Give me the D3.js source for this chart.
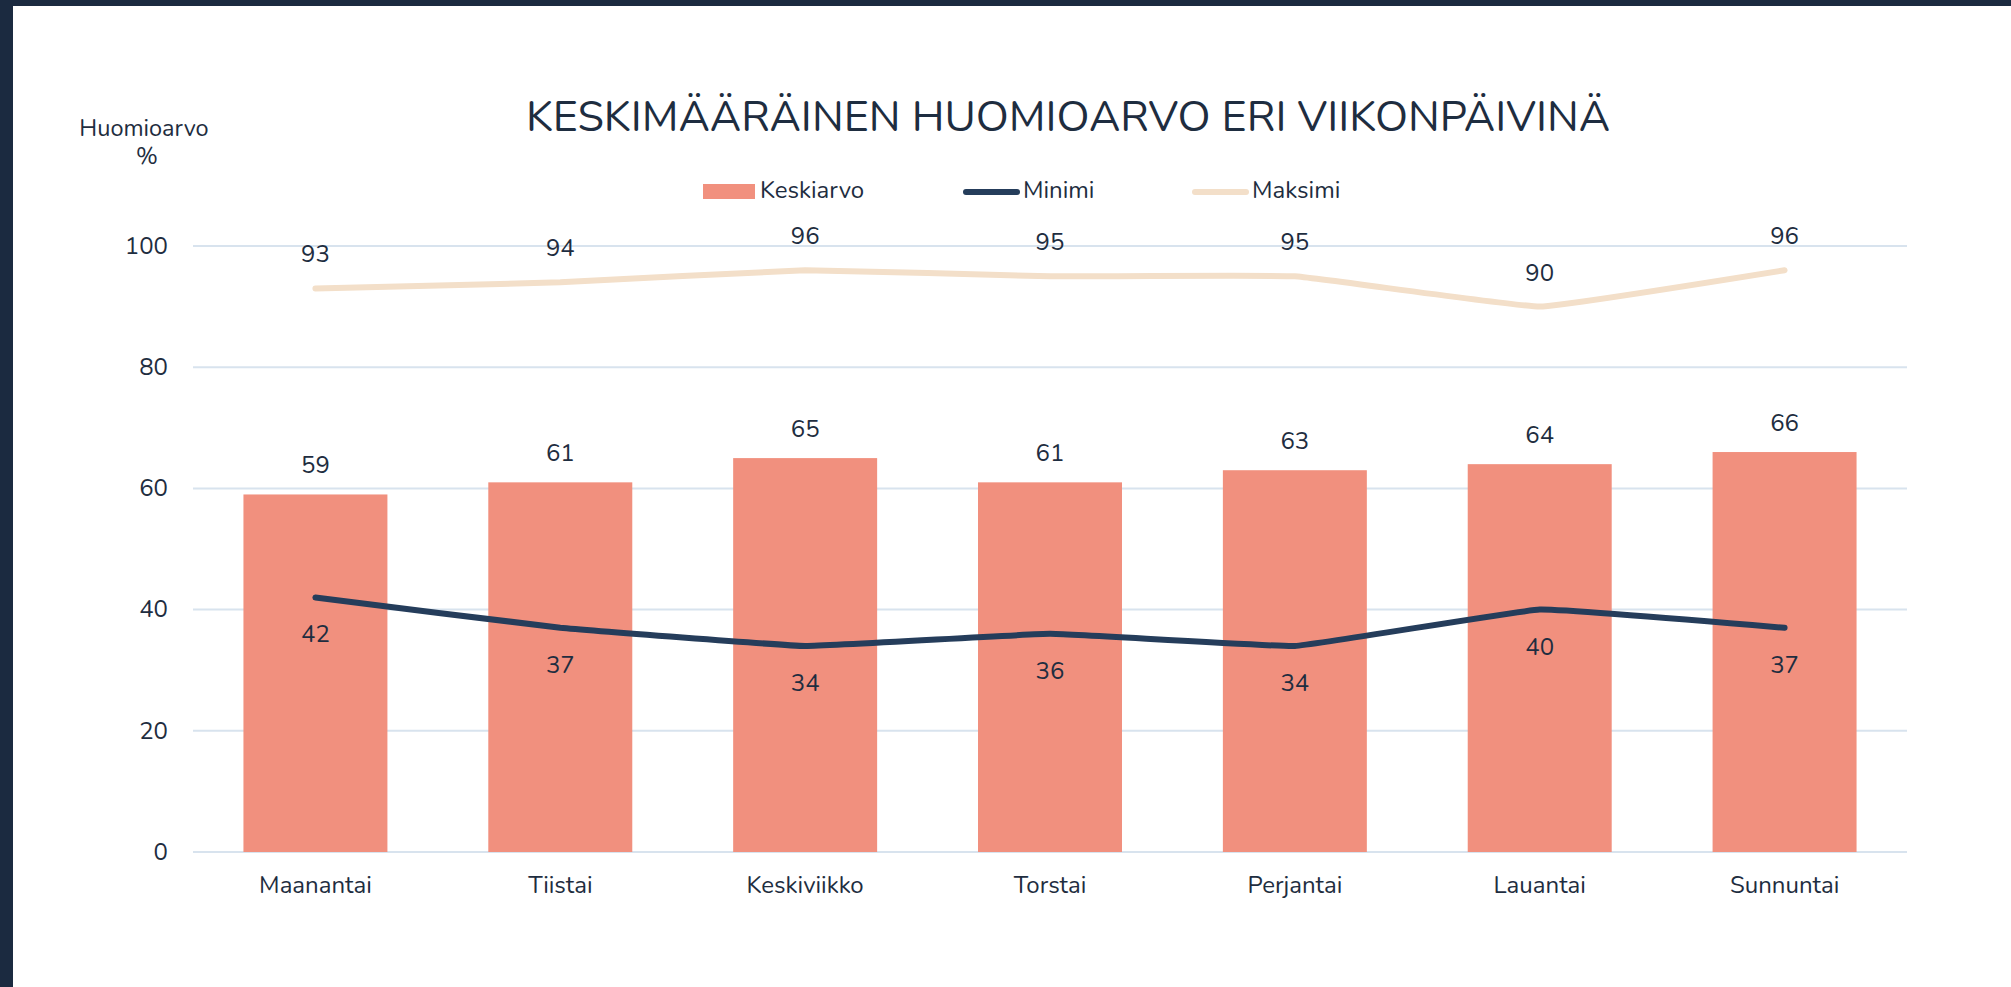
<!DOCTYPE html>
<html>
<head>
<meta charset="utf-8">
<script src="https://cdn.jsdelivr.net/npm/d3@7"></script>
<style>
  html, body { margin: 0; padding: 0; background: #fff; }
  svg text { font-family: "Nunito", "Lato", sans-serif; fill: #1e2d40; }
</style>
</head>
<body>
<div id="chart"></div>
<script>
// Data
const days = ["Maanantai", "Tiistai", "Keskiviikko", "Torstai", "Perjantai", "Lauantai", "Sunnuntai"];
const keskiarvo = [59, 61, 65, 61, 63, 64, 66];
const minimi = [42, 37, 34, 36, 34, 40, 37];
const maksimi = [93, 94, 96, 95, 95, 90, 96];
const yTicks = [0, 20, 40, 60, 80, 100];
const seriesNames = ["Keskiarvo", "Minimi", "Maksimi"];

const W = 2011, H = 987;
const colors = { bar: "#f1907e", min: "#253d5b", max: "#f3dfc9", grid: "#d8e3ee", frame: "#1b2a40" };

const svg = d3.select("#chart").append("svg")
    .attr("width", W)
    .attr("height", H);

// dark frame (top + left edge)
svg.append("rect").attr("width", W).attr("height", H).attr("fill", colors.frame);
svg.append("rect").attr("x", 13).attr("y", 6).attr("width", W - 13).attr("height", H - 6).attr("fill", "#fff");

// scales
const x = d3.scaleBand()
    .domain(days)
    .range([193, 1907])
    .paddingInner(0.412)
    .paddingOuter(0.206);

const y = d3.scaleLinear()
    .domain([0, 100])
    .range([852, 246]);

const cx = d => x(d) + x.bandwidth() / 2;

// gridlines
svg.append("g")
    .selectAll("line")
    .data(yTicks)
    .enter()
    .append("line")
    .attr("x1", 193)
    .attr("x2", 1907)
    .attr("y1", d => y(d))
    .attr("y2", d => y(d))
    .attr("stroke", colors.grid)
    .attr("stroke-width", 2);

// y axis labels
const yAxis = svg.append("g")
    .attr("transform", "translate(168,0)")
    .call(d3.axisLeft(y).tickValues(yTicks).tickSize(0).tickPadding(0));
yAxis.select(".domain").remove();
yAxis.attr("font-family", null);
yAxis.selectAll("text")
    .attr("font-size", "24px")
    .attr("dy", "0.3em")
    .attr("fill", "#1e2d40");

// x axis labels
const xAxis = svg.append("g")
    .attr("transform", "translate(0,852)")
    .call(d3.axisBottom(x).tickSize(0).tickPadding(0));
xAxis.select(".domain").remove();
xAxis.attr("font-family", null);
xAxis.selectAll("text")
    .attr("font-size", "24px")
    .attr("y", 41)
    .attr("dy", 0)
    .attr("fill", "#1e2d40");

// bars
svg.append("g")
    .selectAll("rect")
    .data(days)
    .enter()
    .append("rect")
    .attr("x", d => x(d))
    .attr("y", (d, i) => y(keskiarvo[i]))
    .attr("width", x.bandwidth())
    .attr("height", (d, i) => y(0) - y(keskiarvo[i]))
    .attr("fill", colors.bar);

// bar labels
svg.append("g")
    .selectAll("text")
    .data(days)
    .enter()
    .append("text")
    .attr("x", cx)
    .attr("y", (d, i) => y(keskiarvo[i]) - 21)
    .attr("text-anchor", "middle")
    .attr("font-size", "24px")
    .text((d, i) => keskiarvo[i]);

// lines (gently smoothed, like the original)
const line = vals => d3.line()
    .x(d => cx(d))
    .y((d, i) => y(vals[i]))
    .curve(d3.curveCardinal.tension(0.75))(days);

svg.append("path")
    .attr("d", line(maksimi))
    .attr("fill", "none")
    .attr("stroke", colors.max)
    .attr("stroke-width", 6)
    .attr("stroke-linecap", "round")
    .attr("stroke-linejoin", "round");

svg.append("path")
    .attr("d", line(minimi))
    .attr("fill", "none")
    .attr("stroke", colors.min)
    .attr("stroke-width", 6)
    .attr("stroke-linecap", "round")
    .attr("stroke-linejoin", "round");

// line labels
svg.append("g")
    .selectAll("text")
    .data(days)
    .enter()
    .append("text")
    .attr("x", cx)
    .attr("y", (d, i) => y(maksimi[i]) - 26)
    .attr("text-anchor", "middle")
    .attr("font-size", "24px")
    .text((d, i) => maksimi[i]);

svg.append("g")
    .selectAll("text")
    .data(days)
    .enter()
    .append("text")
    .attr("x", cx)
    .attr("y", (d, i) => y(minimi[i]) + 45)
    .attr("text-anchor", "middle")
    .attr("font-size", "24px")
    .text((d, i) => minimi[i]);

// title
svg.append("text")
    .attr("x", 1068)
    .attr("y", 131)
    .attr("text-anchor", "middle")
    .attr("font-size", "43px")
    .text("KESKIMÄÄRÄINEN HUOMIOARVO ERI VIIKONPÄIVINÄ");

// y axis title
svg.append("text")
    .attr("x", 144)
    .attr("y", 136)
    .attr("text-anchor", "middle")
    .attr("font-size", "23.5px")
    .text("Huomioarvo");
svg.append("text")
    .attr("x", 147)
    .attr("y", 164)
    .attr("text-anchor", "middle")
    .attr("font-size", "23.5px")
    .text("%");

// legend
const legendX = [703, 963, 1192];
const legend = svg.append("g");
seriesNames.forEach((name, i) => {
    const g = legend.append("g").attr("transform", `translate(${legendX[i]},0)`);
    if (i === 0) {
        g.append("rect")
            .attr("x", 0).attr("y", 184)
            .attr("width", 52).attr("height", 15)
            .attr("fill", colors.bar);
    } else {
        g.append("line")
            .attr("x1", 3).attr("x2", 54)
            .attr("y1", 192).attr("y2", 192)
            .attr("stroke", i === 1 ? colors.min : colors.max)
            .attr("stroke-width", 6)
            .attr("stroke-linecap", "round");
    }
    g.append("text")
        .attr("x", i === 0 ? 57 : 60)
        .attr("y", 198)
        .attr("font-size", "24px")
        .text(name);
});
</script>
</body>
</html>
